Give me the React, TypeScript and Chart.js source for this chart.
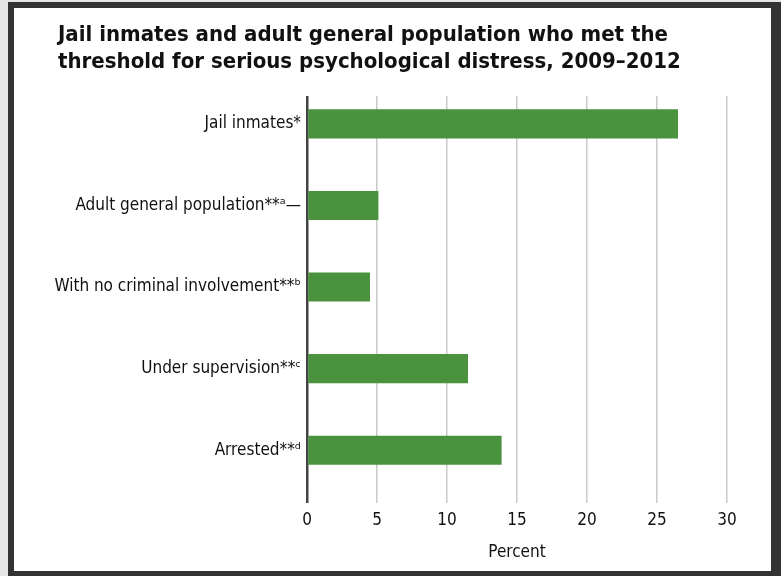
import React, { useEffect, useRef } from "react";
import { Chart, registerables } from "chart.js";

Chart.register(...registerables);

const categories = [
  "Jail inmates*",
  "Adult general population**ᵃ—",
  "With no criminal involvement**ᵇ",
  "Under supervision**ᶜ",
  "Arrested**ᵈ",
];
const percentValues = [26.5, 5.1, 4.5, 11.5, 13.9];
const xTicks = [0, 5, 10, 15, 20, 25, 30];
const titleLines = [
  "Jail inmates and adult general population who met the",
  "threshold for serious psychological distress, 2009–2012",
];
const xAxisTitle = "Percent";

const NARROW = "'Liberation Sans Narrow', 'DejaVu Sans Condensed', 'Arial Narrow', sans-serif";

export default function App() {
  const ref = useRef<HTMLCanvasElement | null>(null);

  useEffect(() => {
    if (!ref.current) return;
    const chart = new Chart(ref.current, {
      type: "bar",
      data: {
        datasets: [
          {
            data: percentValues.map((v, i) => ({ x: v, y: i })),
            backgroundColor: "#4a923e",
            borderColor: "#4a923e",
            borderWidth: 0,
            barPercentage: 0.356,
            categoryPercentage: 1,
          },
        ],
      },
      plugins: [
        {
          id: "labelRoom",
          afterLayout(c: any) {
            if (c.scales.y) c.scales.y.left = 0;
          },
        },
      ],
      options: {
        indexAxis: "y",
        responsive: false,
        animation: false,
        devicePixelRatio: 1,
        layout: { padding: { left: 44, right: 44, top: 0, bottom: 8 } },
        plugins: {
          legend: { display: false },
          tooltip: { enabled: false },
          title: {
            display: true,
            text: titleLines,
            align: "start",
            color: "#111",
            font: { family: NARROW, size: 22, weight: "bold", lineHeight: 1.23 },
            padding: { top: 14, bottom: 20 },
          },
        },
        scales: {
          x: {
            type: "linear",
            min: 0,
            max: 30,
            afterBuildTicks: (s: any) => {
              s.ticks = xTicks.map((v) => ({ value: v }));
            },
            grid: {
              color: (c: any) => (c.tick && c.tick.value === 0 ? "#444" : "#c9c9c9"),
              lineWidth: (c: any) => (c.tick && c.tick.value === 0 ? 2.5 : 1.5),
              tickLength: 12,
              drawTicks: true,
            },
            border: { display: false },
            ticks: {
              color: "#111",
              font: { family: NARROW, size: 17 },
              padding: 7,
            },
            title: {
              display: true,
              text: xAxisTitle,
              color: "#111",
              font: { family: NARROW, size: 17 },
              padding: { top: 4, bottom: 0 },
            },
            afterFit: (s: any) => {
              s.height = 72;
            },
          },
          y: {
            type: "linear",
            reverse: true,
            offset: false,
            min: -0.34,
            max: 4.5,
            afterBuildTicks: (s: any) => {
              s.ticks = categories.map((_, i) => ({ value: i }));
            },
            grid: { display: false, drawTicks: false, offset: false },
            border: { display: false },
            ticks: {
              autoSkip: false,
              color: "#111",
              font: { family: NARROW, size: 17 },
              padding: 6,
              callback: (v: any) => categories[v as number] ?? "",
            },
            afterFit: (s: any) => {
              s.width = 249;
            },
          },
        },
      },
    });
    return () => chart.destroy();
  }, []);

  return (
    <div
      style={{
        position: "fixed",
        left: 0,
        top: 0,
        width: 781,
        height: 576,
        background: "#e6e6e6",
      }}
    >
      <div
        style={{
          position: "absolute",
          left: 8,
          top: 2,
          width: 773,
          height: 574,
          boxSizing: "border-box",
          borderStyle: "solid",
          borderColor: "#333",
          borderLeftWidth: 6,
          borderTopWidth: 6,
          borderRightWidth: 10,
          borderBottomWidth: 5,
          background: "#fff",
        }}
      >
        <canvas ref={ref} width={757} height={563} style={{ display: "block", width: 757, height: 563 }} />
      </div>
    </div>
  );
}
